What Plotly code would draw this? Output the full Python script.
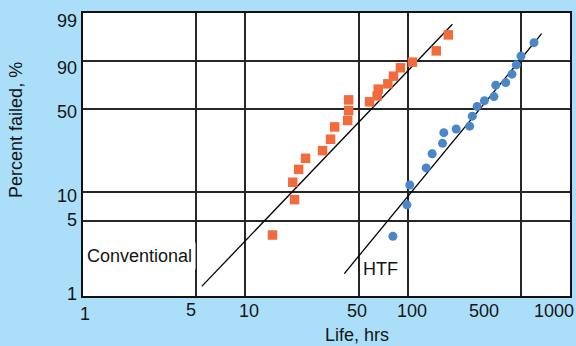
import numpy as np
import plotly.graph_objects as go

# Life test results: hours to failure and cumulative percent failed
conv_life = [14.7, 20.1, 19.6, 21.3, 23.5, 29.9, 33.5, 35.5, 42.7, 43.3,
             43.3, 58.2, 64.9, 65.9, 75.5, 81.8, 90.3, 107, 150, 178]
conv_pct = [3.7, 8.4, 12.4, 16.2, 20.3, 23.6, 29.4, 36.8, 41.2, 48.5,
            57.8, 56.0, 61.5, 67.7, 72.5, 79.1, 85.5, 89.2, 93.0, 96.5]

htf_life = [81.1, 98.9, 103, 130, 141.5, 164, 167, 199, 241, 250,
            268, 297, 340, 349, 402, 439, 467, 499, 600]
htf_pct = [3.6, 7.4, 11.7, 16.7, 22.2, 27.2, 33.2, 35.5, 37.3, 44.3,
           51.9, 57.1, 60.8, 71.3, 73.6, 80.7, 87.5, 91.5, 95.0]

# Fitted Weibull lines (end points)
conv_fit_life = [5.39, 188.6]
conv_fit_pct = [1.23, 98.0]
htf_fit_life = [40.7, 669]
htf_fit_pct = [1.62, 96.7]

x_ticks = [1, 5, 10, 50, 100, 500, 1000]
y_ticks = [1, 5, 10, 50, 90, 99]

# Probability paper: ruling heights of the percent lines (fraction of axis)
RULING = [0.0, 0.2656, 0.3661, 0.6622, 0.8311, 1.0]


def weibull(pct):
    p = np.asarray(pct, dtype=float) / 100.0
    return np.log(-np.log(1.0 - p))


def prob_axis(pct):
    """Map percent failed onto the Weibull probability-paper axis."""
    return np.interp(weibull(pct), weibull(y_ticks), RULING)


FONT = "Liberation Sans, Arial, sans-serif"
TXT = "#151515"

fig = go.Figure()

fig.add_trace(go.Scatter(
    x=conv_fit_life, y=prob_axis(conv_fit_pct), mode="lines",
    line=dict(color="black", width=1.3), hoverinfo="skip", showlegend=False))
fig.add_trace(go.Scatter(
    x=htf_fit_life, y=prob_axis(htf_fit_pct), mode="lines",
    line=dict(color="black", width=1.3), hoverinfo="skip", showlegend=False))

fig.add_trace(go.Scatter(
    x=conv_life, y=prob_axis(conv_pct), mode="markers", name="Conventional",
    marker=dict(symbol="square", size=9.5, color="#f26b3d"), showlegend=False))
fig.add_trace(go.Scatter(
    x=htf_life, y=prob_axis(htf_pct), mode="markers", name="HTF",
    marker=dict(symbol="circle", size=9, color="#4a87c9"), showlegend=False))

annotations = []

# x tick labels (hand-set offsets from their ruling lines)
x_label_dx = [1.5, -5, 3.5, -2, 4, -37, -16]
x_label_dy = [-17.5, -13.5, -15, -15, -15, -15, -15]
for v, dx, dy in zip(x_ticks, x_label_dx, x_label_dy):
    annotations.append(dict(
        x=np.log10(v), xref="x", y=0, yref="paper", text=str(v),
        showarrow=False, xanchor="center", yanchor="middle",
        xshift=dx, yshift=dy, font=dict(family=FONT, size=18, color=TXT)))

# y tick labels
y_label_dy = [1.7, 1.1, -3.4, -3, -7.3, -7.7]
for v, dy in zip(y_ticks, y_label_dy):
    annotations.append(dict(
        x=0, xref="paper", y=float(prob_axis([v])[0]), yref="y", text=str(v),
        showarrow=False, xanchor="right", yanchor="middle",
        xshift=-4, yshift=dy, font=dict(family=FONT, size=18, color=TXT)))

# Axis titles
annotations.append(dict(
    x=0.5633, xref="paper", y=0, yref="paper", text="Life, hrs",
    showarrow=False, xanchor="center", yanchor="middle", yshift=-39,
    font=dict(family=FONT, size=18, color=TXT)))
annotations.append(dict(
    x=0, xref="paper", y=0.5868, yref="paper", text="Percent failed, %",
    showarrow=False, xanchor="center", yanchor="middle", xshift=-67,
    textangle=-90, font=dict(family=FONT, size=18, color=TXT)))

# Series labels
annotations.append(dict(
    x=0.1169, xref="paper", y=0.1406, yref="paper", text="Conventional",
    showarrow=False, xanchor="center", yanchor="middle",
    bgcolor="white", borderpad=3,
    font=dict(family=FONT, size=18, color=TXT)))
annotations.append(dict(
    x=0.6104, xref="paper", y=0.0945, yref="paper", text="HTF",
    showarrow=False, xanchor="center", yanchor="middle",
    font=dict(family=FONT, size=18, color=TXT)))

fig.update_layout(
    width=576, height=346,
    margin=dict(l=83, r=4, t=13, b=50),
    paper_bgcolor="#abdff9", plot_bgcolor="white",
    showlegend=False,
    annotations=annotations,
    xaxis=dict(
        type="log", range=[0, 3], tickvals=x_ticks, showticklabels=False,
        ticks="", showgrid=True, gridcolor="#262626", gridwidth=1.5,
        showline=True, linecolor="#111", linewidth=2, mirror=True,
        zeroline=False, fixedrange=True),
    yaxis=dict(
        range=[0, 1], tickvals=list(prob_axis(y_ticks)), showticklabels=False,
        ticks="", showgrid=True, gridcolor="#262626", gridwidth=1.5,
        showline=True, linecolor="#111", linewidth=2, mirror=True,
        zeroline=False, fixedrange=True),
)

fig.write_html("out.html")
